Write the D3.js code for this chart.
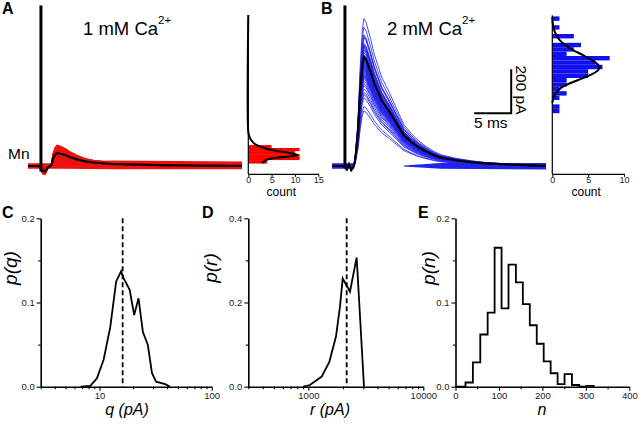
<!DOCTYPE html>
<html>
<head>
<meta charset="utf-8">
<title>Quantal analysis</title>
<script src="https://d3js.org/d3.v7.min.js"></script>
<style>
  body { margin: 0; background: #fff; }
  svg { font-family: "Liberation Sans", Arial, sans-serif; }
</style>
</head>
<body>
<svg width="640" height="424"></svg>
<script>
// ---- data ----
// mean current traces: [ms after stimulus, pA]
const meanA = [[-1.7,0],[-0.2,0],[0.3,-22],[0.6,-24],[0.9,-9],[1.3,0],[1.5,8],[1.7,35],[2.0,53],[2.25,59],[2.6,57],[3.3,50],[4.0,40],[4.9,30],[6.0,21],[7.1,16],[9.4,10],[11.7,7],[16.1,4],[21.5,2],[27.2,1]];
const meanB = [[-1.7,0],[-0.2,0],[0.3,-15],[0.6,8],[0.9,-18],[1.2,-4],[1.4,20],[1.8,150],[2.1,330],[2.4,460],[2.6,497],[2.9,485],[3.5,430],[4,378],[5,300],[6,250],[7,195],[8,140],[9,110],[10,85],[11,66],[12,50],[13,38],[15,26],[17,18],[19,12],[22,7],[25,3],[27.2,1]];
// baseline noise envelope [ms, low pA, high pA]
const noiseA = [[-1.7,-13,13],[1.5,-13,13],[3,-13,22],[10,-15,25],[27.2,-15,20]];
const noiseB = [[-1.7,-12,12],[1.3,-12,12],null,[8,-2,2],[13,-12,14],[27.2,-16,14]];
const artifactA = [730, -25];
const artifactB = [730, -10];

// amplitude histograms (pA bin edges, counts)
const edgesA = [11, 27, 41, 54, 68, 82, 95];
const countsA = [4, 11, 11, 10, 11, 5];
const edgesB = [240,260,280,300,320,340,360,380,400,420,440,460,480,500,520,540,560,580,600,620,640,660,680];
const countsB = [1,1,0,1,2,1,2,2,5,5,7,6,8,2,3,4,0,3,0,1,0,1];
// gaussian fits [pA, count]
const fitA = [[686,0],[155,0],[136,0.2],[118,0.6],[100,1.4],[82,3.4],[68,6.3],[59,8.8],[50,10.6],[45,9.5],[36,5.5],[27,3.8],[18,3.2],[13,3.0]];
const fitB = [[677,0],[641,0.1],[605,0.4],[573,1.0],[550,1.8],[527,2.9],[505,4.2],[482,5.5],[459,6.4],[450,6.6],[436,6.4],[414,5.3],[391,3.6],[368,1.9],[355,1.2],[336,0.6],[314,0.2],[286,0]];
const histAxis = [-36, 685];

// C: p(q)
const qVals = [6.8, 8.3, 9.5, 10.9, 12.5, 14.1, 15.6, 16.4, 18.6, 20.4, 22.3, 24.4, 27.0, 29.4, 32, 38.5, 42.7];
const pQ = [0, 0.001, 0.01, 0.032, 0.071, 0.125, 0.137, 0.129, 0.115, 0.085, 0.105, 0.065, 0.0495, 0.016, 0.006, 0.003, 0];
const qMean = 16.1;
// D: p(r)
const rVals = [903, 1032, 1306, 1521, 1738, 1883, 1989, 2301, 2631, 3048];
const pR = [0, 0.004, 0.024, 0.059, 0.119, 0.19, 0.257, 0.226, 0.307, 0];
const rMean = 2154;
// E: p(n) histogram
const nEdges = [0, 23, 40, 57, 74, 90, 106, 122, 139, 155, 171, 187, 203, 219, 235, 251, 268, 285, 301, 318];
const pN = [0, 0.005, 0.029, 0.062, 0.088, 0.165, 0.093, 0.145, 0.124, 0.098, 0.073, 0.051, 0.030, 0.016, 0.003, 0.015, 0.002, 0, 0.001];

const svg = d3.select('svg');

// ---- traces ----
const tDomain = [-1.7, 27.2];
const xA = d3.scaleLinear().domain(tDomain).range([28, 242]);
const xB = d3.scaleLinear().domain(tDomain).range([332, 546]);
const yT = d3.scaleLinear().domain([-50, 750]).range([177, 1]);

function traces(x, mean, noise, edges, counts, artifact, colour, lw) {
  const peak = d3.max(mean, d => d[1]);
  const line = d3.line().x(d => x(d[0])).y(d => yT(d[1]));
  svg.append('path')
    .attr('d', d3.area().defined(d => d).x(d => x(d[0])).y0(d => yT(d[1])).y1(d => yT(d[2]))(noise))
    .attr('fill', colour);
  // one sweep per counted event, amplitude taken from its histogram bin
  const amps = [];
  counts.forEach((n, i) => {
    for (let k = 0; k < n; k++) amps.push(edges[i] + (k + 0.5) * (edges[i + 1] - edges[i]) / n);
  });
  svg.append('g').selectAll('path')
    .data(amps)
    .join('path')
    .attr('d', a => line(mean.map(d => [d[0], d[1] * a / peak])))
    .attr('fill', 'none')
    .attr('stroke', colour)
    .attr('stroke-width', lw);
  svg.append('path')
    .attr('d', line(mean))
    .attr('fill', 'none')
    .attr('stroke', '#000')
    .attr('stroke-width', 2.2);
  svg.append('line')
    .attr('x1', x(0.05)).attr('x2', x(0.05))
    .attr('y1', yT(artifact[0])).attr('y2', yT(artifact[1]))
    .attr('stroke', '#000').attr('stroke-width', 3);
}
traces(xA, meanA, noiseA, edgesA, countsA, artifactA, '#f01010', 1.5);
traces(xB, meanB, noiseB, edgesB, countsB, artifactB, '#2222ee', 0.8);

// ---- amplitude histograms ----
function ampHist(x0, x1, maxCount, ticks, edges, counts, fit, colour) {
  const c = d3.scaleLinear().domain([0, maxCount]).range([x0, x1]);
  svg.append('g').selectAll('rect')
    .data(counts)
    .join('rect')
    .attr('x', c(0))
    .attr('y', (d, i) => yT(edges[i + 1]))
    .attr('width', d => c(d) - c(0))
    .attr('height', (d, i) => yT(edges[i]) - yT(edges[i + 1]))
    .attr('fill', colour);
  svg.append('line')
    .attr('x1', c(0)).attr('x2', c(0))
    .attr('y1', yT(histAxis[1])).attr('y2', yT(histAxis[0]))
    .attr('stroke', '#000').attr('stroke-width', 1.2);
  svg.append('path')
    .attr('d', d3.line().x(d => c(d[1])).y(d => yT(d[0])).curve(d3.curveCatmullRom)(fit))
    .attr('fill', 'none').attr('stroke', '#000').attr('stroke-width', 2);
  const ax = svg.append('g')
    .attr('transform', `translate(0,${yT(histAxis[0])})`)
    .call(d3.axisBottom(c).tickValues(ticks).tickSize(3).tickSizeOuter(0).tickPadding(0));
  ax.selectAll('text').attr('font-size', 9).attr('fill', '#222').attr('font-family', null);
  ax.select('.domain').attr('stroke-width', 1.2);
  svg.append('text')
    .attr('x', (c(0) + c(ticks[ticks.length - 1])) / 2 - 2)
    .attr('y', 196)
    .attr('text-anchor', 'middle')
    .attr('font-size', 12)
    .text('count');
}
ampHist(248.3, 318.3, 15, [0, 5, 10, 15], edgesA, countsA, fitA, '#ff0000');
ampHist(552.3, 624, 10, [0, 5, 10], edgesB, countsB, fitB, '#1010f0');

// scale bar (5 ms, 200 pA)
svg.append('path')
  .attr('d', d3.line().x(d => xB(d[0])).y(d => yT(d[1]))([[17.5, 240], [22.5, 240], [22.5, 440]]))
  .attr('fill', 'none').attr('stroke', '#000').attr('stroke-width', 2);
svg.append('text').attr('x', 474).attr('y', 128).attr('font-size', 15.5).text('5 ms');
svg.append('text')
  .attr('transform', 'translate(516,90) rotate(90)')
  .attr('text-anchor', 'middle').attr('font-size', 15.5).text('200 pA');

// titles
function title(x, txt) {
  const t = svg.append('text').attr('x', x).attr('y', 35).attr('font-size', 18.5);
  t.append('tspan').text(txt);
  t.append('tspan').attr('font-size', 11.5).attr('dy', -11).text('2+');
}
title(83, '1 mM Ca');
title(387, '2 mM Ca');
svg.append('text').attr('x', 8).attr('y', 159).attr('font-size', 15.5).text('Mn');

// ---- C, D, E ----
const yLo = 386.7, yHi = 218.3;
function panel(x, yMax, xMajor, xMinor, yMinor, fmtX) {
  const y = d3.scaleLinear().domain([0, yMax]).range([yLo, yHi]);
  const x0 = x.range()[0];
  const gy = svg.append('g').attr('transform', `translate(${x0},0)`);
  gy.call(d3.axisLeft(y).tickValues([0, yMax / 2, yMax]).tickFormat(d3.format('.1f')).tickSize(4).tickSizeOuter(0).tickPadding(2));
  gy.append('g').call(d3.axisLeft(y).tickValues(yMinor).tickFormat('').tickSize(2.5).tickSizeOuter(0)).select('.domain').remove();
  const gx = svg.append('g').attr('transform', `translate(0,${yLo})`);
  gx.call(d3.axisBottom(x).tickValues(xMajor).tickFormat(fmtX).tickSize(4).tickSizeOuter(0).tickPadding(2));
  gx.append('g').call(d3.axisBottom(x).tickValues(xMinor).tickFormat('').tickSize(2.5).tickSizeOuter(0)).select('.domain').remove();
  [gx, gy].forEach(g => {
    g.selectAll('text').attr('font-size', 9.5).attr('fill', '#222').attr('font-family', null);
    g.selectAll('.domain').attr('stroke-width', 1.6);
    g.selectAll('.tick line').attr('stroke-width', 1.1);
  });
  return y;
}
function dashed(x, y, v, top) {
  svg.append('line')
    .attr('x1', x(v)).attr('x2', x(v))
    .attr('y1', y(top)).attr('y2', y(0))
    .attr('stroke', '#000').attr('stroke-width', 1.8).attr('stroke-dasharray', '5,3');
}
function labels(letter, lx, yTitle, ytx, xTitle, xtx) {
  svg.append('text').attr('x', lx).attr('y', 218).attr('font-size', 16).attr('font-weight', 'bold').text(letter);
  svg.append('text')
    .attr('transform', `translate(${ytx},268) rotate(-90)`)
    .attr('text-anchor', 'middle').attr('font-size', 19).attr('font-style', 'italic').text(yTitle);
  svg.append('text')
    .attr('x', xtx).attr('y', 415)
    .attr('text-anchor', 'middle').attr('font-size', 16).attr('font-style', 'italic').text(xTitle);
}

// C
const xC = d3.scaleLog().domain([3, 100]).range([40.7, 211.7]);
const yC = panel(xC, 0.2, [10, 100], [3,4,5,6,7,8,9,20,30,40,50,60,70,80,90], [0.05, 0.15], d3.format('d'));
svg.append('path')
  .attr('d', d3.line().x(d => xC(d[0])).y(d => yC(d[1]))(d3.zip(qVals, pQ)))
  .attr('fill', 'none').attr('stroke', '#000').attr('stroke-width', 1.8);
dashed(xC, yC, qMean, 0.2);
labels('C', 2, 'p(q)', 17, 'q (pA)', 127);

// D
const xD = d3.scaleLog().domain([300, 10000]).range([248.3, 423.3]);
const yD = panel(xD, 0.4, [1000, 10000], [300,400,500,600,700,800,900,2000,3000,4000,5000,6000,7000,8000,9000], [0.1, 0.3], d3.format('d'));
svg.append('path')
  .attr('d', d3.line().x(d => xD(d[0])).y(d => yD(d[1]))(d3.zip(rVals, pR)))
  .attr('fill', 'none').attr('stroke', '#000').attr('stroke-width', 1.8);
dashed(xD, yD, rMean, 0.4);
labels('D', 202, 'p(r)', 217, 'r (pA)', 330);

// E
const xE = d3.scaleLinear().domain([0, 400]).range([455.5, 629.3]);
const yE = panel(xE, 0.2, [0, 100, 200, 300, 400], [50, 150, 250, 350], [0.05, 0.15], d3.format('d'));
svg.append('path')
  .attr('d', d3.line().x(d => xE(d[0])).y(d => yE(d[1])).curve(d3.curveStepAfter)(d3.zip(nEdges, pN.concat([0]))))
  .attr('fill', 'none').attr('stroke', '#000').attr('stroke-width', 1.8);
labels('E', 418, 'p(n)', 435, 'n', 542);

svg.append('text').attr('x', 2).attr('y', 14).attr('font-size', 16).attr('font-weight', 'bold').text('A');
svg.append('text').attr('x', 321).attr('y', 14).attr('font-size', 16).attr('font-weight', 'bold').text('B');
</script>
</body>
</html>
